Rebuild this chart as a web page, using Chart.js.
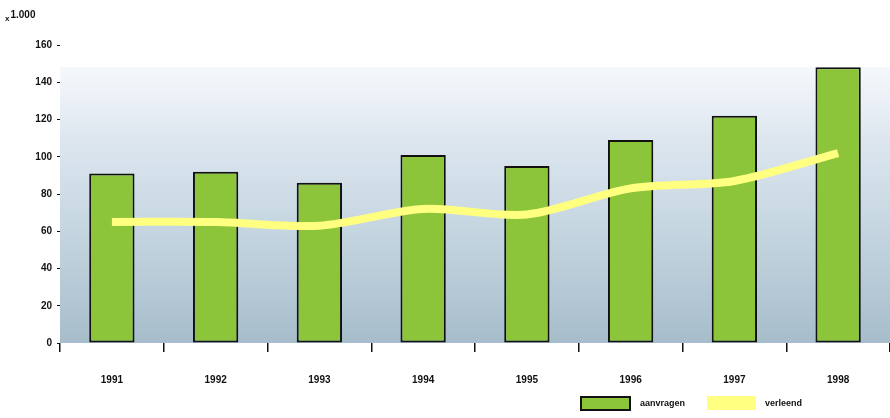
<!DOCTYPE html>
<html>
<head>
<meta charset="utf-8">
<script src="https://cdn.jsdelivr.net/npm/chart.js@4.4.1/dist/chart.umd.min.js"></script>
<style>
  html, body { margin: 0; padding: 0; background: #fff; }
  #wrap { position: relative; width: 890px; height: 418px; }
  #unit { position: absolute; left: 5px; top: 9px; font: bold 10px "Liberation Sans", Arial, sans-serif; color: #111; }
  #unit small { font-size: 8px; position: relative; top: 3px; margin-right: 1px; }
  .leg { position: absolute; top: 396px; height: 14px; }
  .leg-txt { position: absolute; top: 398px; font: bold 9px "Liberation Sans", Arial, sans-serif; color: #111; }
</style>
</head>
<body>
<div id="wrap">
  <canvas id="c" width="890" height="418"></canvas>
  <div id="unit"><small>x</small>1.000</div>
  <div class="leg" style="left:580px;width:47px;background:#8cc43a;border:2px solid #111;height:11px;"></div>
  <div class="leg-txt" style="left:640px;">aanvragen</div>
  <div class="leg" style="left:707px;width:49px;background:#ffff80;"></div>
  <div class="leg-txt" style="left:765px;">verleend</div>
</div>
<script>
// ── Data ──────────────────────────────────────────────────────
const years     = ['1991', '1992', '1993', '1994', '1995', '1996', '1997', '1998'];
const aanvragen = [91, 92, 86, 101, 95, 109, 122, 148];
const verleend  = [65, 65, 63, 72, 69, 83, 87, 102];
const yTicks    = [0, 20, 40, 60, 80, 100, 120, 140, 160];

const FONT = { family: "'Liberation Sans', Arial, sans-serif", size: 10, weight: 'bold' };

// ── Background gradient behind plot ──────────────────────────
const bgPlugin = {
  id: 'bg',
  beforeDraw(chart) {
    const { ctx, chartArea: a } = chart;
    const top = a.top + 22;
    const g = ctx.createLinearGradient(0, top, 0, a.bottom);
    g.addColorStop(0, 'rgba(230,236,245,0.4)');
    g.addColorStop(0.25, '#dee7f0');
    g.addColorStop(0.6, '#c4d5e0');
    g.addColorStop(1, '#a7bdcb');
    ctx.save();
    ctx.fillStyle = g;
    ctx.fillRect(a.left, top, a.right - a.left, a.bottom - top);
    ctx.restore();
  },
};

new Chart(document.getElementById('c'), {
  type: 'bar',
  data: {
    labels: years,
    datasets: [
      {
        type: 'line',
        label: 'verleend',
        data: verleend,
        borderColor: '#ffff80',
        borderWidth: 8,
        pointRadius: 0,
        tension: 0.3,
        order: 0,
      },
      {
        label: 'aanvragen',
        data: aanvragen,
        backgroundColor: '#8cc43a',
        borderColor: '#111',
        borderWidth: 2,
        borderSkipped: false,
        categoryPercentage: 0.84,
        barPercentage: 0.52,
        order: 1,
      },
    ],
  },
  options: {
    responsive: false,
    animation: false,
    layout: { padding: { top: 45, right: 0, left: 0, bottom: 0 } },
    plugins: { legend: { display: false }, tooltip: { enabled: false } },
    scales: {
      x: {
        offset: true,
        grid: { offset: true, drawOnChartArea: false, color: '#111', tickLength: 9, lineWidth: 1.5 },
        border: { display: false },
        ticks: { color: '#111', font: FONT, padding: 22 },
        afterFit: (s) => { s.height = 75; },
      },
      y: {
        min: 0,
        max: 160,
        afterBuildTicks: (s) => { s.ticks = yTicks.map((v) => ({ value: v })); },
        grid: { drawOnChartArea: false, color: '#111', tickLength: 3 },
        border: { display: false },
        ticks: { color: '#111', font: FONT, padding: 5 },
        afterFit: (s) => { s.width = 60; },
      },
    },
  },
  plugins: [bgPlugin],
});
</script>
</body>
</html>
